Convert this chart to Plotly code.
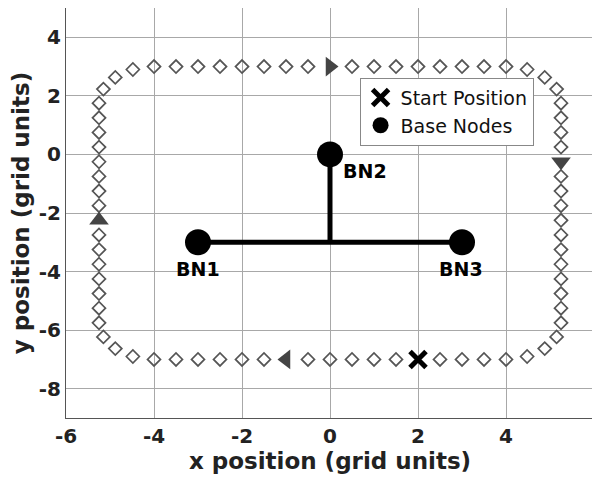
import plotly.graph_objects as go

FONT = "DejaVu Sans, sans-serif"
PATH_GRAY = '#555555'
ARROW_GRAY = '#444444'

# patrol path (clockwise from top-left)
top_x = [-4, -3.5, -3, -2.5, -2, -1.5, -1, -0.5, 0.5, 1, 1.5, 2, 2.5, 3, 3.5, 4]
top_y = [3, 3, 3, 3, 3, 3, 3, 3, 3, 3, 3, 3, 3, 3, 3, 3]
corner_tr_x = [4.48, 4.88, 5.15]
corner_tr_y = [2.90, 2.63, 2.23]
right_x = [5.25, 5.25, 5.25, 5.25, 5.25, 5.25, 5.25, 5.25, 5.25, 5.25, 5.25, 5.25, 5.25, 5.25, 5.25]
right_y = [1.75, 1.25, 0.75, 0.25, -0.75, -1.25, -1.75, -2.25, -2.75, -3.25, -3.75, -4.25, -4.75, -5.25, -5.75]
corner_br_x = [5.15, 4.88, 4.48]
corner_br_y = [-6.23, -6.63, -6.90]
bottom_x = [4, 3.5, 3, 2.5, 1.5, 1, 0.5, 0, -0.5, -1.5, -2, -2.5, -3, -3.5, -4]
bottom_y = [-7, -7, -7, -7, -7, -7, -7, -7, -7, -7, -7, -7, -7, -7, -7]
corner_bl_x = [-4.48, -4.88, -5.15]
corner_bl_y = [-6.90, -6.63, -6.23]
left_x = [-5.25, -5.25, -5.25, -5.25, -5.25, -5.25, -5.25, -5.25, -5.25, -5.25, -5.25, -5.25, -5.25, -5.25, -5.25]
left_y = [-5.75, -5.25, -4.75, -4.25, -3.75, -3.25, -2.75, -1.75, -1.25, -0.75, -0.25, 0.25, 0.75, 1.25, 1.75]
corner_tl_x = [-5.15, -4.88, -4.48]
corner_tl_y = [2.23, 2.63, 2.90]

# direction arrows along the path
arrow_x = [0, 5.25, -1, -5.25]
arrow_y = [3, -0.25, -7, -2.25]
arrow_symbols = ['triangle-right', 'triangle-down', 'triangle-left', 'triangle-up']

start_x = [2]
start_y = [-7]

node_x = [-3, 0, 3]
node_y = [-3, 0, -3]
node_names = ['BN1', 'BN2', 'BN3']
label_x = [-3, 0.79, 2.97]
label_y = [-3.9, -0.57, -3.9]

# links between base nodes
link_x = [-3, 3, None, 0, 0]
link_y = [-3, -3, None, 0, -3]

x_ticks = [-6, -4, -2, 0, 2, 4, 6]
y_ticks = [-8, -6, -4, -2, 0, 2, 4]

path_x = top_x + corner_tr_x + right_x + corner_br_x + bottom_x + corner_bl_x + left_x + corner_tl_x
path_y = top_y + corner_tr_y + right_y + corner_br_y + bottom_y + corner_bl_y + left_y + corner_tl_y

fig = go.Figure()
fig.add_trace(go.Scatter(
    x=path_x, y=path_y, mode='markers', showlegend=False,
    marker=dict(symbol='diamond-open', size=10, color=PATH_GRAY, line=dict(width=1.7)),
))
fig.add_trace(go.Scatter(
    x=arrow_x, y=arrow_y, mode='markers', showlegend=False,
    marker=dict(symbol=arrow_symbols, size=17, color=ARROW_GRAY),
))
fig.add_trace(go.Scatter(
    x=link_x, y=link_y, mode='lines', showlegend=False,
    line=dict(color='black', width=5),
))
fig.add_trace(go.Scatter(
    x=start_x, y=start_y, mode='markers', name='Start Position',
    marker=dict(symbol='x-thin-open', size=16, color='black', line=dict(width=5, color='black')),
))
fig.add_trace(go.Scatter(
    x=node_x, y=node_y, mode='markers', name='Base Nodes',
    marker=dict(symbol='circle', size=26, color='black'),
))
for lx, ly, name in zip(label_x, label_y, node_names):
    fig.add_annotation(
        x=lx, y=ly, text=name, showarrow=False,
        font=dict(family=FONT, size=19, color='black', weight='bold'),
    )

# page body adds an 8px offset, so the figure is a bit smaller than the window
fig.update_layout(
    width=592, height=471,
    font_family=FONT,
    paper_bgcolor='white', plot_bgcolor='white',
    margin=dict(l=58, r=6, t=0, b=61),
    legend=dict(
        x=0.556, y=0.83, xanchor='left', yanchor='top',
        bgcolor='white', bordercolor='#888888', borderwidth=1,
        font=dict(family=FONT, size=19, color='#111111'),
        tracegroupgap=0,
    ),
)
axis_common = dict(
    showgrid=True, gridcolor='#a8a8a8', gridwidth=1,
    showline=True, linecolor='#555555', linewidth=1, mirror=True,
    zeroline=False, ticks='', automargin=False,
    tickfont=dict(family=FONT, size=20, color='#222222', weight='bold'),
)
fig.update_xaxes(
    range=[-6, 6], tickvals=x_ticks, ticktext=[str(v) for v in x_ticks], **axis_common,
    title=dict(text='x position (grid units)', standoff=4,
               font=dict(family=FONT, size=23, color='#222222', weight='bold')),
)
fig.update_yaxes(
    range=[-9, 5], tickvals=y_ticks, ticktext=[str(v) for v in y_ticks], **axis_common,
    title=dict(text='y position (grid units)', standoff=2,
               font=dict(family=FONT, size=23, color='#222222', weight='bold')),
)

fig.write_html("out.html")
